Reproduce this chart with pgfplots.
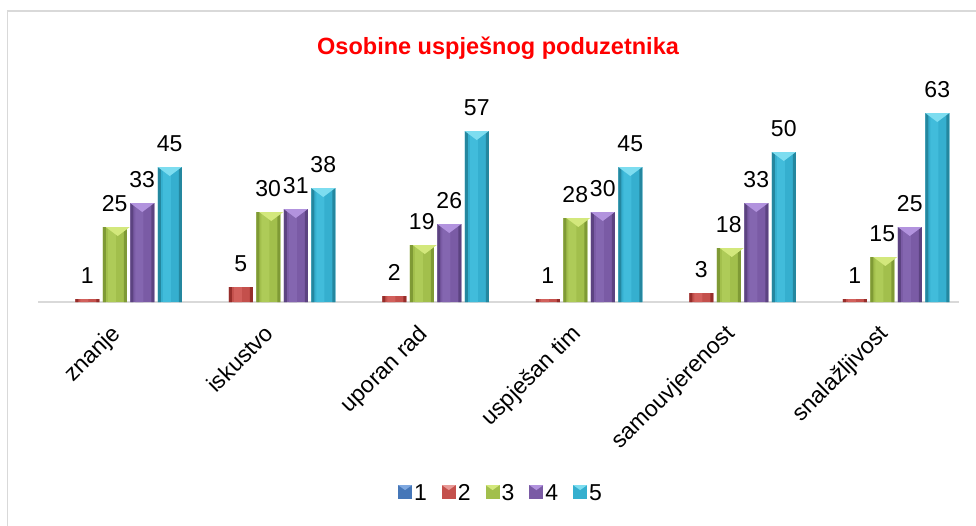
\documentclass[border=0pt]{standalone}
\usepackage{fontspec}
\setmainfont{Liberation Sans}
\usepackage{pgfplots}
\usepackage{pgfplotstable}
\pgfplotsset{compat=1.18}
\usetikzlibrary{calc}

\definecolor{frameG}{HTML}{D9D9D9}
\definecolor{axisG}{HTML}{D9D9D9}
\definecolor{titleR}{HTML}{FF0000}
% bar colours: body / dark edge / highlight / top bevel
\definecolor{bM}{HTML}{4677B8}\definecolor{bT}{HTML}{7FA8E0}
\definecolor{rM}{HTML}{C4504C}\definecolor{rD}{HTML}{962E2B}\definecolor{rL}{HTML}{D2605C}\definecolor{rT}{HTML}{E89A97}
\definecolor{gM}{HTML}{A2BF4C}\definecolor{gD}{HTML}{7F9A35}\definecolor{gL}{HTML}{AECB58}\definecolor{gT}{HTML}{D3E87C}
\definecolor{pM}{HTML}{7A5BA5}\definecolor{pD}{HTML}{5C4381}\definecolor{pL}{HTML}{8466B0}\definecolor{pT}{HTML}{B293DE}
\definecolor{cM}{HTML}{35AFCF}\definecolor{cD}{HTML}{24879F}\definecolor{cL}{HTML}{41BCDB}\definecolor{cT}{HTML}{7DDDF0}

% light triangle on the top of each bar
\pgfdeclareplotmark{bevel}{%
  \pgfpathmoveto{\pgfpoint{-12bp}{0bp}}%
  \pgfpathlineto{\pgfpoint{12bp}{0bp}}%
  \pgfpathlineto{\pgfpoint{0bp}{-9bp}}%
  \pgfpathclose\pgfusepath{fill}}

\pgfplotstableread{
x s1 s2 s3 s4 s5
0 0 1 25 33 45
1 0 5 30 31 38
2 0 2 19 26 57
3 0 1 28 30 45
4 0 3 18 33 50
5 0 1 15 25 63
}\data

\newcommand{\lbl}{\fontsize{23bp}{27bp}\selectfont}
% legend square with a small bevel
\newcommand{\legsq}[2]{\fill[#1] (0bp,-6bp) rectangle (14bp,8bp);
  \fill[#2] (0bp,8bp) -- (14bp,8bp) -- (7bp,3bp) -- cycle;}

\begin{document}
\begin{tikzpicture}
\begin{axis}[
  scale only axis,
  width=921bp, height=210bp,
  xmin=-0.5, xmax=5.5, ymin=0, ymax=70,
  enlargelimits=false, clip=false,
  ybar, bar width=24bp,
  hide y axis, axis x line*=bottom,
  x axis line style={-, draw=axisG, line width=2.5bp},
  xtick={0,...,5}, major tick length=0pt,
  xticklabels={znanje, iskustvo, uporan rad, uspješan tim, samouvjerenost, snalažljivost},
  xticklabel style={xshift=-5bp, yshift=-21bp, rotate=45, anchor=north east,
    inner sep=0pt, font=\lbl},
  /pgf/number format/assume math mode=true,
  every node near coord/.append style={font=\lbl, text=black, anchor=south,
    inner sep=0pt, yshift=15bp},
  title={Osobine uspješnog poduzetnika},
  title style={at={(0.4995,1.181)}, anchor=center, inner sep=0pt,
    font=\bfseries\fontsize{23.5bp}{27bp}\selectfont, text=titleR},
  legend columns=5,
  legend style={draw=none, fill=none, at={(0.5027,-0.91)}, anchor=center,
    font=\lbl, inner sep=0pt,
    /tikz/every even column/.append style={column sep=13bp}},
]
\coordinate (O) at (rel axis cs:0,0);
% series 1 (all zero, nothing visible)
\addplot[draw=none, fill=none, bar shift=-55bp,
  legend image code/.code={\legsq{bM}{bT}}] table[x=x, y=s1] {\data};
\addlegendentry{1}
% series 2
\addplot[fill=rM, draw=none, bar shift=-27.5bp, nodes near coords,
  legend image code/.code={\legsq{rM}{rT}}] table[x=x, y=s2] {\data};
\addlegendentry{2}
\addplot[fill=rD, draw=none, forget plot, bar width=3bp, bar shift=-38bp] table[x=x, y=s2] {\data};
\addplot[fill=rD, draw=none, forget plot, bar width=3bp, bar shift=-17bp] table[x=x, y=s2] {\data};
\addplot[fill=rL, draw=none, forget plot, bar width=8bp, bar shift=-30.5bp] table[x=x, y=s2] {\data};
% series 3
\addplot[fill=gM, draw=none, bar shift=0bp, nodes near coords,
  legend image code/.code={\legsq{gM}{gT}}] table[x=x, y=s3] {\data};
\addlegendentry{3}
\addplot[fill=gD, draw=none, forget plot, bar width=3bp, bar shift=-10.5bp] table[x=x, y=s3] {\data};
\addplot[fill=gD, draw=none, forget plot, bar width=3bp, bar shift=10.5bp] table[x=x, y=s3] {\data};
\addplot[fill=gL, draw=none, forget plot, bar width=8bp, bar shift=-3bp,
  mark=bevel, mark options={fill=gT, xshift=3bp}] table[x=x, y=s3] {\data};
% series 4
\addplot[fill=pM, draw=none, bar shift=27.5bp, nodes near coords,
  legend image code/.code={\legsq{pM}{pT}}] table[x=x, y=s4] {\data};
\addlegendentry{4}
\addplot[fill=pD, draw=none, forget plot, bar width=3bp, bar shift=17bp] table[x=x, y=s4] {\data};
\addplot[fill=pD, draw=none, forget plot, bar width=3bp, bar shift=38bp] table[x=x, y=s4] {\data};
\addplot[fill=pL, draw=none, forget plot, bar width=8bp, bar shift=24.5bp,
  mark=bevel, mark options={fill=pT, xshift=27.5bp}] table[x=x, y=s4] {\data};
% series 5
\addplot[fill=cM, draw=none, bar shift=55bp, nodes near coords,
  legend image code/.code={\legsq{cM}{cT}}] table[x=x, y=s5] {\data};
\addlegendentry{5}
\addplot[fill=cD, draw=none, forget plot, bar width=3bp, bar shift=44.5bp] table[x=x, y=s5] {\data};
\addplot[fill=cD, draw=none, forget plot, bar width=3bp, bar shift=65.5bp] table[x=x, y=s5] {\data};
\addplot[fill=cL, draw=none, forget plot, bar width=8bp, bar shift=52bp,
  mark=bevel, mark options={fill=cT, xshift=55bp}] table[x=x, y=s5] {\data};
\end{axis}
\pgfresetboundingbox
\useasboundingbox ($(O)+(-38bp,-224bp)$) rectangle ($(O)+(938bp,302bp)$);
\begin{scope}
\clip ($(O)+(-38bp,-224bp)$) rectangle ($(O)+(938bp,302bp)$);
\draw[frameG, line width=1.5bp] ($(O)+(-30.5bp,-240bp)$) rectangle ($(O)+(960bp,291bp)$);
\end{scope}
\end{tikzpicture}
\end{document}
